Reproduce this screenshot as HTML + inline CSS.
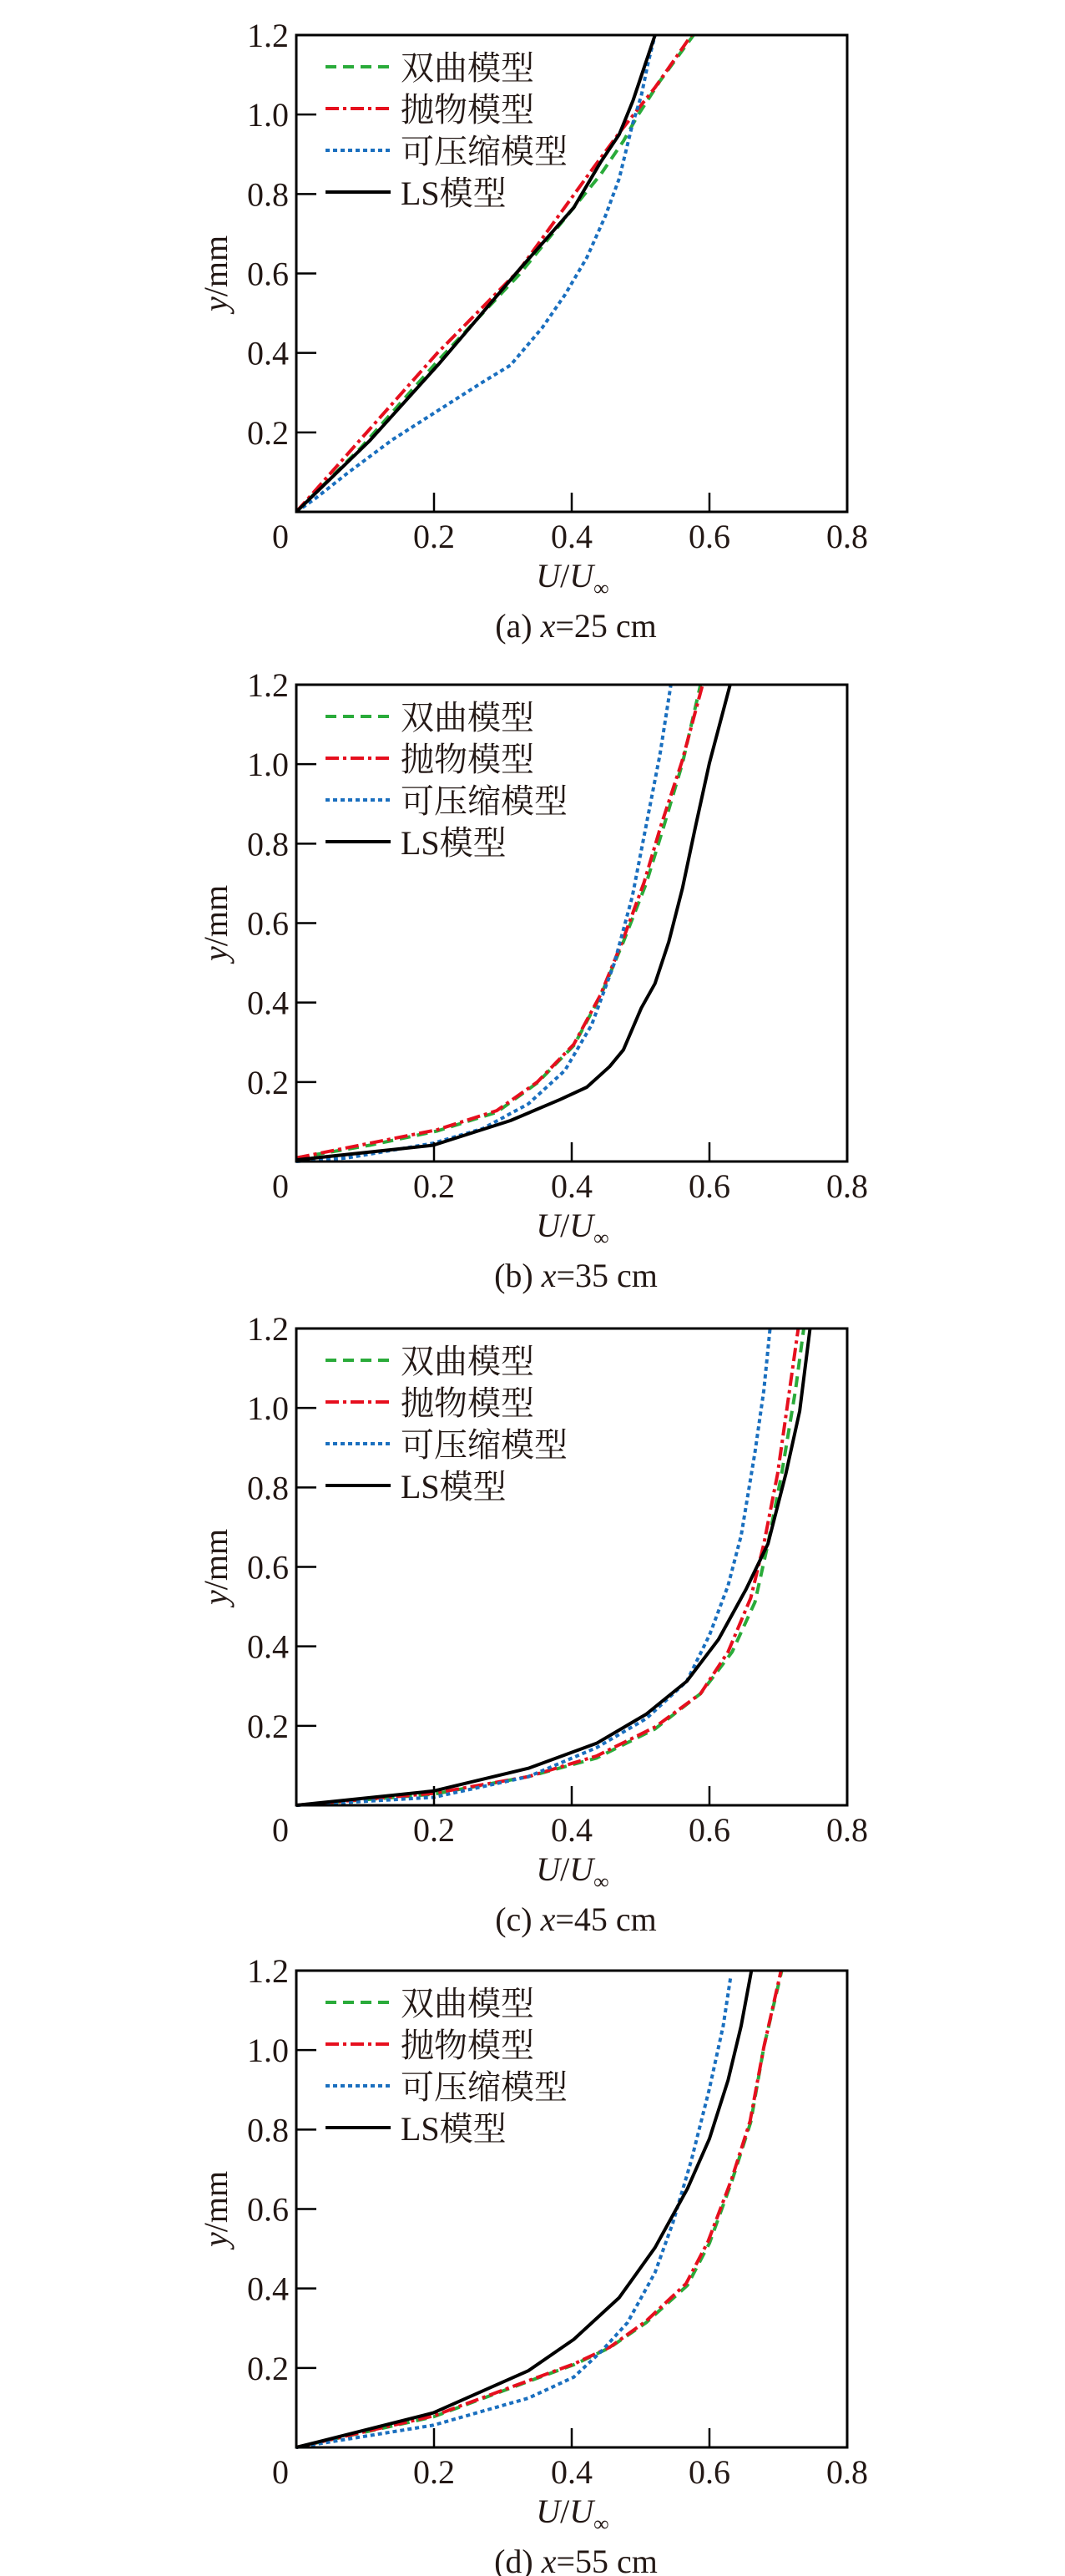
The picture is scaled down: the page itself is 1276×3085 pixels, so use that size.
<!DOCTYPE html>
<html><head><meta charset="utf-8"><style>
html,body{margin:0;padding:0;background:#fff;}
svg{display:block;}
.tick{font-family:"Liberation Serif",serif;font-size:40px;fill:#231815;}
.cjk{font-family:"Liberation Serif","Noto Serif CJK SC",serif;font-size:40px;fill:#231815;}
</style></head><body>
<svg id="root" width="1276" height="3085" viewBox="0 0 1276 3085" xmlns="http://www.w3.org/2000/svg"></svg>
<script>
// Panel (a) x=25 cm
const aU_hyp=[0,0.093,0.205,0.324,0.403,0.442,0.475,0.495,0.528,0.577];
const aY_hyp=[0,0.16,0.379,0.598,0.766,0.849,0.933,0.995,1.084,1.2];
const aU_par=[0,0.087,0.205,0.324,0.429,0.469,0.521,0.574];
const aY_par=[0,0.17,0.40,0.609,0.86,0.954,1.068,1.2];
const aU_cmp=[0,0.028,0.074,0.139,0.205,0.271,0.311,0.357,0.390,0.422,0.449,0.469,0.488,0.501,0.511,0.521];
const aY_cmp=[0,0.034,0.097,0.181,0.254,0.327,0.369,0.463,0.546,0.640,0.745,0.839,0.974,1.047,1.131,1.2];
const aU_ls=[0,0.107,0.206,0.324,0.403,0.442,0.469,0.489,0.521];
const aY_ls=[0,0.18,0.37,0.61,0.766,0.88,0.95,1.035,1.2];
// Panel (b) x=35 cm
const bU_hyp=[0,0.107,0.205,0.291,0.350,0.403,0.442,0.475,0.508,0.534,0.561,0.587];
const bY_hyp=[0.009,0.041,0.077,0.124,0.198,0.292,0.417,0.553,0.699,0.845,1.003,1.2];
const bU_par=[0,0.107,0.205,0.291,0.350,0.403,0.442,0.474,0.505,0.530,0.560,0.590];
const bY_par=[0.009,0.046,0.080,0.128,0.200,0.295,0.420,0.556,0.702,0.848,1.006,1.2];
const bU_cmp=[0,0.074,0.199,0.271,0.337,0.390,0.429,0.462,0.488,0.508,0.528,0.544];
const bY_cmp=[0,0.009,0.046,0.083,0.145,0.229,0.344,0.50,0.667,0.845,1.023,1.2];
const bU_ls=[0,0.199,0.311,0.383,0.422,0.455,0.475,0.501,0.521,0.541,0.561,0.580,0.600,0.630];
const bY_ls=[0.004,0.041,0.103,0.156,0.187,0.239,0.281,0.386,0.448,0.553,0.689,0.845,1.003,1.2];
// Panel (c) x=45 cm
const cU_hyp=[0,0.199,0.337,0.436,0.521,0.587,0.633,0.666,0.685,0.705,0.725,0.737];
const cY_hyp=[0,0.028,0.072,0.119,0.192,0.281,0.386,0.511,0.658,0.835,1.045,1.2];
const cU_par=[0,0.199,0.337,0.436,0.521,0.587,0.627,0.660,0.679,0.699,0.712,0.729];
const cY_par=[0,0.030,0.072,0.124,0.197,0.281,0.386,0.522,0.658,0.835,0.992,1.2];
const cU_cmp=[0,0.199,0.337,0.436,0.508,0.567,0.600,0.627,0.646,0.666,0.679,0.688];
const cY_cmp=[0,0.02,0.072,0.145,0.218,0.312,0.428,0.553,0.679,0.888,1.045,1.2];
const cU_ls=[0,0.199,0.337,0.436,0.508,0.567,0.613,0.653,0.685,0.711,0.731,0.746];
const cY_ls=[0,0.036,0.093,0.156,0.229,0.312,0.417,0.543,0.658,0.835,0.992,1.2];
// Panel (d) x=55 cm
const dU_hyp=[0,0.199,0.337,0.403,0.455,0.508,0.568,0.600,0.633,0.660,0.679,0.705];
const dY_hyp=[0,0.077,0.166,0.208,0.251,0.314,0.408,0.514,0.672,0.819,1.008,1.2];
const dU_par=[0,0.199,0.337,0.403,0.455,0.508,0.566,0.598,0.632,0.659,0.679,0.704];
const dY_par=[0,0.079,0.168,0.210,0.252,0.318,0.412,0.518,0.674,0.821,1.008,1.2];
const dU_cmp=[0,0.199,0.337,0.403,0.442,0.481,0.521,0.547,0.574,0.600,0.620,0.631];
const dY_cmp=[0,0.056,0.124,0.177,0.240,0.314,0.44,0.566,0.724,0.903,1.061,1.187];
const dU_ls=[0,0.199,0.337,0.403,0.469,0.521,0.568,0.600,0.627,0.646,0.661];
const dY_ls=[0,0.087,0.193,0.272,0.377,0.503,0.651,0.777,0.924,1.061,1.2];

const xTicks=[0,0.2,0.4,0.6,0.8];
const xTickLabels=["0","0.2","0.4","0.6","0.8"];
const yTicks=[0.2,0.4,0.6,0.8,1.0,1.2];
const yTickLabels=["0.2","0.4","0.6","0.8","1.0","1.2"];
const legendLabels=["双曲模型","抛物模型","可压缩模型","LS模型"];
const captions=["(a)|25","(b)|35","(c)|45","(d)|55"];

const NS="http://www.w3.org/2000/svg";
const root=document.getElementById('root');
function mk(tag,attrs,parent){const e=document.createElementNS(NS,tag);for(const k in attrs)e.setAttribute(k,attrs[k]);(parent||root).appendChild(e);return e;}

const styles=[
 {color:"#2aab3a",dash:"13 8"},
 {color:"#e60f1e",dash:"16 5 4 5"},
 {color:"#1a6fbf",dash:"5 4"},
 {color:"#000000",dash:""}
];
const panels=[
 {top:42,series:[[aU_hyp,aY_hyp],[aU_par,aY_par],[aU_cmp,aY_cmp],[aU_ls,aY_ls]]},
 {top:820,series:[[bU_hyp,bY_hyp],[bU_par,bY_par],[bU_cmp,bY_cmp],[bU_ls,bY_ls]]},
 {top:1591,series:[[cU_hyp,cY_hyp],[cU_par,cY_par],[cU_cmp,cY_cmp],[cU_ls,cY_ls]]},
 {top:2360,series:[[dU_hyp,dY_hyp],[dU_par,dY_par],[dU_cmp,dY_cmp],[dU_ls,dY_ls]]}
];
const L=355,R=1015,H=571;
const seriesNames=["hyperbolic","parabolic","compressible","ls"];

panels.forEach((p,pi)=>{
  const T=p.top,B=T+H;
  const sx=u=>L+(u/0.8)*(R-L);
  const sy=v=>B-(v/1.2)*H;
  const g=mk('g',{});
  
  
  // series
  p.series.forEach((s,si)=>{
    const pts=s[0].map((u,i)=>sx(u).toFixed(1)+","+sy(s[1][i]).toFixed(1)).join(" ");
    const pl=mk('polyline',{points:pts,fill:"none",stroke:styles[si].color,"stroke-width":4,"stroke-linejoin":"round"},g);
    if(styles[si].dash)pl.setAttribute('stroke-dasharray',styles[si].dash);
    
    
  });
  // frame
  const fr=mk('rect',{x:L,y:T,width:R-L,height:H,fill:"none",stroke:"#000","stroke-width":3},g);
  
  
  // x ticks
  xTicks.forEach((t,i)=>{
    if(t>0&&t<0.8){const tk=mk('line',{x1:sx(t),x2:sx(t),y1:B,y2:B-23,stroke:"#000","stroke-width":2.5},g);
      
      }
    const lb=mk('text',{x:(t===0?sx(t)-19:sx(t)),y:B+43,"text-anchor":"middle",class:"tick"},g);
    lb.textContent=xTickLabels[i];
    
    
  });
  yTicks.forEach((t,i)=>{
    if(t<1.2){const tk=mk('line',{x1:L,x2:L+24,y1:sy(t),y2:sy(t),stroke:"#000","stroke-width":2.5},g);
      
      }
    const lb=mk('text',{x:346,y:sy(t)+14,"text-anchor":"end",class:"tick"},g);
    lb.textContent=yTickLabels[i];
    
    
  });
  // y axis title
  const yt=mk('text',{transform:`translate(272,${T+H/2}) rotate(-90)`,"text-anchor":"middle",class:"tick"},g);
  yt.innerHTML='<tspan font-style="italic">y</tspan>/mm';
  
  
  // x axis title
  const xt=mk('text',{x:686,y:B+90,"text-anchor":"middle",class:"tick"},g);
  xt.innerHTML='<tspan font-style="italic">U</tspan>/<tspan font-style="italic">U</tspan><tspan font-size="26" dy="10">∞</tspan>';
  
  
  // caption
  const cp=captions[pi].split("|");
  const ct=mk('text',{x:690,y:B+150,"text-anchor":"middle",class:"tick"},g);
  ct.innerHTML=cp[0]+' <tspan font-style="italic">x</tspan>='+cp[1]+' cm';
  
  
  // legend
  const lg=mk('g',{},g);
  
  
  legendLabels.forEach((lab,i)=>{
    const yy=T+38+i*50;
    const ln=mk('line',{x1:390,x2:468,y1:yy,y2:yy,stroke:styles[i].color,"stroke-width":4},lg);
    if(styles[i].dash)ln.setAttribute('stroke-dasharray',styles[i].dash);
    
    
    const tx=mk('text',{x:480,y:yy+15,class:"cjk"},lg);
    tx.textContent=lab;
    
    
  });
});
</script>
</body></html>
